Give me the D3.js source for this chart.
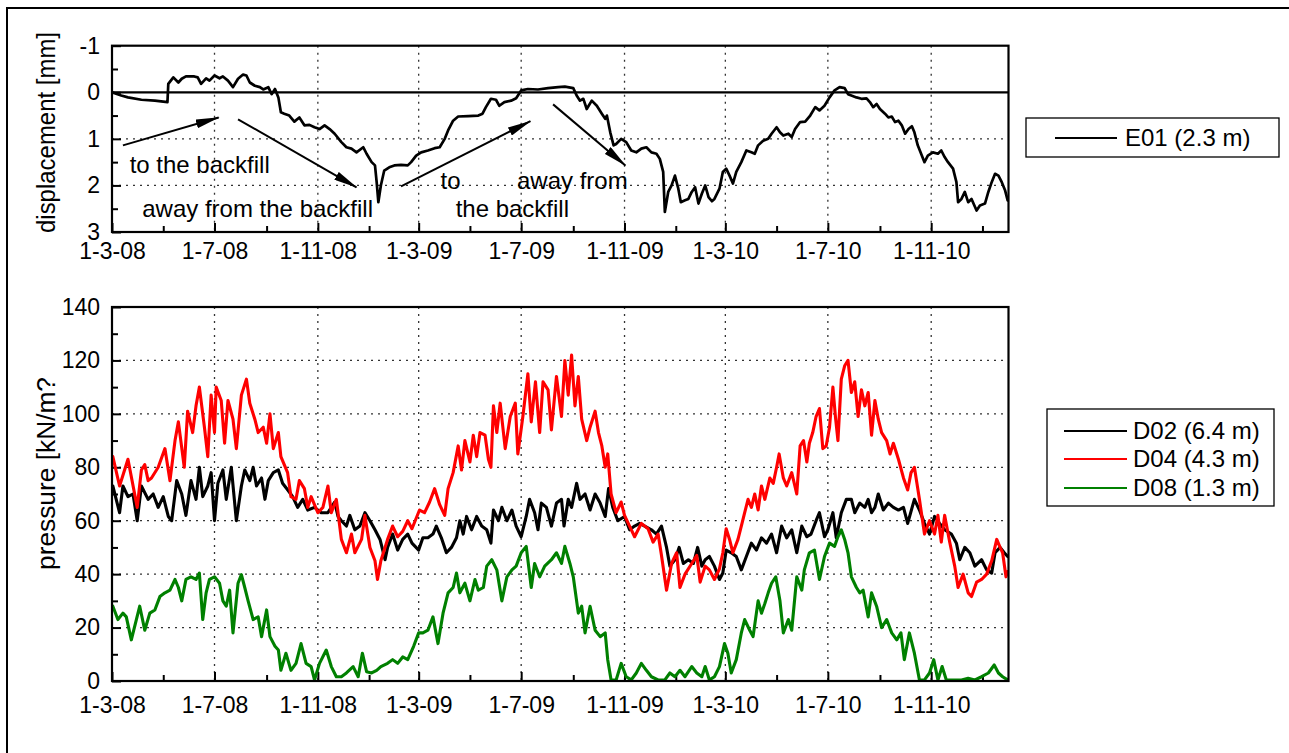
<!DOCTYPE html>
<html>
<head>
<meta charset="utf-8">
<script src="https://cdn.jsdelivr.net/npm/d3@7"></script>
<style>
  html, body { margin: 0; padding: 0; background: #fff; }
  svg { display: block; font-family: "Liberation Sans", Arial, Helvetica, sans-serif; }
</style>
</head>
<body>
<svg id="chart" width="1289" height="753"></svg>
<script>
// ---------------------------------------------------------------------------
// Monitoring record, 1 March 2008 – 1 February 2011.
// Each series is a list of [day since 1-3-08, reading].
// ---------------------------------------------------------------------------

// E01 (2.3 m): horizontal displacement [mm], positive = away from the backfill
const e01 = [
  [0,0],[11,0.07],[19,0.11],[35,0.16],[51,0.18],[66,0.21],[67,-0.18],[73,-0.32],[79,-0.21],[83,-0.29],
  [88,-0.34],[98,-0.34],[102,-0.32],[106,-0.18],[112,-0.30],[116,-0.25],[122,-0.36],[128,-0.30],[132,-0.34],[138,-0.25],
  [144,-0.11],[150,-0.29],[156,-0.38],[160,-0.36],[164,-0.21],[170,-0.14],[176,-0.11],[180,-0.06],[186,-0.11],[190,0.04],
  [194,-0.07],[198,0.11],[201,0.43],[205,0.46],[211,0.50],[217,0.63],[223,0.54],[229,0.71],[235,0.70],[241,0.75],
  [247,0.79],[253,0.71],[259,0.79],[265,0.89],[273,1.07],[279,1.18],[285,1.21],[291,1.29],[299,1.18],[303,1.32],
  [309,1.50],[313,1.57],[315,1.93],[317,2.36],[320,2.00],[324,1.68],[330,1.61],[336,1.57],[344,1.56],[352,1.57],
  [356,1.50],[362,1.36],[368,1.29],[376,1.25],[384,1.20],[390,1.18],[396,1.00],[400,0.82],[406,0.61],[412,0.52],
  [424,0.51],[436,0.50],[441,0.46],[445,0.32],[451,0.14],[457,0.16],[461,0.29],[467,0.21],[475,0.18],[481,0.13],
  [487,-0.04],[495,-0.07],[507,-0.06],[519,-0.09],[531,-0.11],[539,-0.12],[549,-0.09],[553,0.07],[557,0.18],[561,0.14],
  [565,0.36],[571,0.18],[577,0.29],[583,0.46],[587,0.57],[589,0.50],[593,0.86],[597,1.14],[600,1.11],[606,1.00],
  [612,1.07],[618,1.25],[624,1.29],[630,1.21],[636,1.18],[642,1.29],[648,1.32],[652,1.43],[656,1.71],[658,2.57],
  [662,2.14],[666,2.00],[670,1.79],[674,2.07],[677,2.36],[682,2.32],[686,2.29],[690,2.14],[694,2.04],[698,2.39],
  [702,2.18],[706,2.00],[710,2.25],[714,2.34],[717,2.29],[723,2.07],[727,1.71],[731,1.64],[735,1.79],[739,1.96],
  [743,1.71],[749,1.50],[755,1.25],[761,1.29],[765,1.32],[769,1.14],[775,1.04],[781,1.00],[785,0.89],[791,0.75],
  [795,0.86],[799,0.93],[805,0.89],[809,0.96],[813,0.79],[819,0.64],[825,0.63],[831,0.50],[837,0.32],[842,0.39],
  [848,0.29],[854,0.11],[860,-0.04],[866,-0.11],[872,-0.09],[876,0.04],[880,0.07],[886,0.11],[892,0.14],[898,0.13],
  [902,0.21],[906,0.32],[910,0.25],[914,0.36],[920,0.46],[924,0.54],[928,0.52],[932,0.64],[936,0.61],[940,0.71],
  [944,0.89],[948,0.79],[952,0.73],[955,0.86],[959,1.14],[963,1.32],[967,1.50],[971,1.36],[977,1.29],[983,1.32],
  [987,1.25],[991,1.39],[995,1.50],[1001,1.64],[1005,1.93],[1007,2.36],[1011,2.29],[1015,2.14],[1019,2.36],[1023,2.29],
  [1029,2.54],[1033,2.43],[1039,2.39],[1043,2.14],[1047,1.93],[1051,1.75],[1055,1.79],[1059,1.93],[1063,2.11],[1066,2.32]
];

// D02 (6.4 m): earth pressure [kN/m²]
const d02 = [
  [1,73],[5,68],[9,63],[13,73],[19,69],[25,70],[30,60],[35,73],[43,68],[49,70],[55,65],[61,69],[67,61.6],[71,60],
  [77,75],[83,70],[88,62],[94,75],[100,68],[104,80],[108,69],[114,73],[118,78],[122,60],[126,74],[132,79],[136,68],
  [142,80],[148,60],[154,73],[158,79],[164,75],[168,80],[172,73],[178,76],[182,68],[186,75],[192,78],[198,79],[203,74],
  [209,71.6],[215,69],[221,65],[227,68],[233,64],[241,65],[249,63],[257,63],[265,67],[269,61.6],[273,60],[279,58],
  [283,62],[289,56.6],[295,58],[301,63],[307,60],[313,56.6],[319,53],[325,45.4],[328,50],[334,55],[340,49],[346,53],
  [352,55],[357,51.6],[365,49],[370,53.6],[376,53.6],[382,55],[386,58],[392,53.6],[398,48],[404,50],[410,53.6],[414,60],
  [418,55],[422,61.6],[428,56.6],[434,61.6],[440,58],[446,56.6],[451,51.6],[454,64],[460,60],[464,65],[470,60],[476,64],
  [481,58],[487,54],[493,61.6],[497,68],[503,63],[507,56.6],[511,66.6],[517,65],[523,58],[529,66.6],[535,68],[538,58],
  [543,68],[547,65],[553,74],[557,68],[563,70],[569,64],[575,70],[581,66.6],[587,61.6],[591,72],[596,65],[602,60],
  [610,61.6],[616,56.6],[622,58],[628,59],[634,58],[642,56.6],[648,55],[654,58],[660,50],[664,43],[670,45.4],[675,50],
  [680,44],[686,45.4],[692,44],[697,50],[702,43],[706,45.4],[711,46.6],[717,43],[723,38],[727,40.4],[731,49],[737,48],
  [743,46.6],[749,41.6],[755,46.6],[761,51.6],[767,49],[773,53.6],[779,51.6],[785,55],[791,48],[797,58],[803,53.6],
  [809,56.6],[815,48],[821,58],[827,54],[832,55],[838,60],[842,63],[848,54],[852,56.6],[858,63],[862,53.6],[868,63],
  [874,68],[880,68],[884,63],[890,66.6],[896,65],[900,68],[904,63],[908,65],[912,70],[918,64],[924,66.6],[930,65],
  [936,64],[942,65],[947,59],[955,68],[961,64],[967,59],[973,55],[979,61.6],[985,59],[991,56.6],[999,55],[1005,51.6],
  [1009,45.4],[1015,50],[1021,48],[1027,43],[1035,45.4],[1041,41.6],[1047,40.4],[1051,48],[1057,50],[1062,48],[1066,46.6]
];

// D04 (4.3 m): earth pressure [kN/m²]
const d04 = [
  [1,84],[9,73],[19,83],[30,65],[35,79],[39,81],[43,75],[47,76],[55,80],[63,87],[69,75],[75,90],[79,97],[86,80],
  [90,101],[96,93],[100,103],[104,110],[110,95],[114,84],[118,107],[122,93],[124,110],[130,105],[134,89],[138,105],
  [144,98],[148,87],[154,107],[160,113],[164,104],[170,98],[174,93],[180,95],[184,89],[188,100],[192,87],[198,93],
  [201,84],[209,78],[213,69],[219,68],[223,75],[229,72],[233,65],[237,69],[245,63],[251,65],[257,73],[261,63],[267,68],
  [273,53],[279,48],[285,55],[289,48],[297,53],[301,62],[307,50],[313,45],[316,38],[320,45],[328,53],[334,58],[340,54],
  [346,56],[352,60],[357,57],[366,64],[372,63],[378,67],[384,72],[390,66],[396,62],[400,72],[406,78],[412,88],[416,79],
  [420,90],[426,82],[430,92],[434,84],[438,93],[444,92],[448,83],[451,80],[454,103],[458,93],[462,104],[468,87],[474,99],
  [480,104],[483,85],[489,99],[495,115],[499,97],[504,112],[509,93],[513,112],[519,109],[523,94],[529,114],[535,99],
  [539,120],[543,107],[547,122],[551,103],[555,114],[559,98],[565,90],[569,95],[575,101],[579,93],[583,88],[587,80],
  [590,85],[594,70],[600,63],[606,67],[610,62],[616,58],[622,54],[630,59],[638,57],[644,52],[650,55],[654,47],[660,34],
  [666,44],[672,48],[676,35],[682,40],[690,44],[696,47],[700,37],[706,43],[711,41.6],[717,38],[723,42],[727,48],[731,57],
  [735,53],[739,48],[745,53],[749,58],[753,63],[757,68],[761,65],[765,70],[769,64],[773,73],[777,68],[783,76],[787,74],
  [791,80],[794,85],[799,76],[803,73],[809,78],[815,70],[819,88],[823,90],[827,82],[830,89],[834,93],[838,99],[842,102],
  [846,87],[850,88],[854,95],[858,110],[861,99],[864,90],[868,113],[872,118],[876,120],[880,108],[884,112],[888,99],
  [892,109],[896,103],[900,108],[904,92],[908,105],[912,98],[916,93],[922,90],[926,85],[930,89],[936,83],[942,76],
  [947,71.5],[951,78],[955,80],[961,68],[967,55],[973,60],[979,55],[983,62],[987,52],[991,62],[997,52],[1003,43],
  [1007,35],[1013,40],[1019,33],[1023,31.6],[1029,37],[1035,38],[1041,40],[1047,45],[1053,53],[1057,50],[1060,48],
  [1064,39],[1066,41]
];

// D08 (1.3 m): earth pressure [kN/m²]
const d08 = [
  [1,28],[7,23],[13,25.4],[17,24],[23,15.4],[29,23],[33,28],[39,19],[45,25.4],[51,26.6],[57,31.6],[63,33],[69,34],
  [75,38],[79,35],[83,30],[88,38],[94,39],[100,38],[104,40.4],[108,23],[112,33],[116,38],[122,39],[128,36.6],[132,30],
  [136,28],[140,34],[144,18],[150,36.6],[154,39.8],[158,35],[162,30],[168,23],[174,24],[178,16.6],[184,26.6],[188,16.6],
  [194,13],[198,11.6],[201,4],[207,10.4],[213,4],[219,6.6],[225,14],[231,6.6],[237,5.4],[241,0.4],[247,6.6],[255,11.6],
  [261,5.4],[267,1.6],[273,1.6],[279,3],[287,5.4],[293,1.6],[298,10.4],[303,3.5],[309,3],[315,4],[320,5.4],[328,6.6],
  [334,8],[340,6.6],[346,9],[352,8],[359,13],[365,18],[370,18],[376,19],[382,24],[388,14],[394,25.4],[400,33],[406,35],
  [410,40.4],[414,33],[420,36.6],[426,30],[432,38],[436,34],[442,35],[446,43],[452,45.4],[458,41.6],[464,30],[470,39],
  [476,41.6],[481,43],[487,48],[493,50.4],[499,35],[503,44],[509,39],[515,43],[523,45.4],[529,48],[535,44],[539,50.4],
  [545,44],[549,39],[555,25.4],[559,28],[563,18],[569,28],[575,19],[581,16.6],[587,18],[590,8],[594,0.4],[600,0.4],
  [606,6.6],[612,1.6],[618,0.4],[624,3],[630,6.6],[636,4],[642,1.6],[650,0.4],[658,0.4],[664,3],[670,1.6],[676,4],
  [682,1.6],[690,5.4],[696,3],[702,1.6],[706,5.4],[711,0.4],[717,1.6],[723,5.4],[729,14],[733,10.4],[737,3],[743,8],
  [749,18],[753,23],[759,19],[763,16.6],[769,30],[773,25.4],[777,29],[781,33],[785,36.6],[790,39],[795,30],[799,18],
  [805,23],[809,19],[815,39],[821,34],[824,41.6],[830,48],[836,49],[842,38],[848,46.6],[854,51.6],[860,50.4],[864,54],
  [868,56.6],[872,53],[876,48],[880,39],[886,35],[890,33],[894,34],[900,24],[904,33],[910,28],[916,20],[922,23],[928,18],
  [934,15.4],[939,18],[943,8],[949,18],[955,10.4],[961,0.4],[967,0.4],[973,3],[978,8],[983,0.4],[988,5.4],[993,0.4],
  [1001,0.4],[1011,0.4],[1019,1],[1027,0.4],[1035,1.6],[1043,3],[1050,6],[1055,3],[1060,1.6],[1066,0.4]
];

// Axis ticks
const majorTickDates = ["2008-03-01","2008-07-01","2008-11-01","2009-03-01","2009-07-01","2009-11-01","2010-03-01","2010-07-01","2010-11-01"];
const minorTickDates = ["2008-05-01","2008-09-01","2009-01-01","2009-05-01","2009-09-01","2010-01-01","2010-05-01","2010-09-01","2011-01-01"];
const dispTicks = [-1, 0, 1, 2, 3];
const dispMinorTicks = [-0.5, 0.5, 1.5, 2.5];
const pressTicks = [0, 20, 40, 60, 80, 100, 120, 140];
const pressMinorTicks = [10, 30, 50, 70, 90, 110, 130];

// Legend entries
const topLegend = [{ name: "E01 (2.3 m)", color: "#000000" }];
const bottomLegend = [
  { name: "D02 (6.4 m)", color: "#000000" },
  { name: "D04 (4.3 m)", color: "#ff0000" },
  { name: "D08 (1.3 m)", color: "#008000" }
];

// Movement annotations on the displacement panel: [day, mm]
const arrowStarts = [[13, 1.14], [150, 0.58], [344, 2.02], [525, 0.26]];
const arrowEnds   = [[127, 0.54], [291, 2.04], [498, 0.62], [611, 1.57]];
const noteTexts   = ["to the backfill", "away from the backfill", "to", "away from", "the backfill"];
const noteAnchors = [[21, 1.74], [36, 2.68], [391, 2.08], [482, 2.08], [409, 2.68]];

// ---------------------------------------------------------------------------
const parseDate = d3.timeParse("%Y-%m-%d");
const START = new Date(2008, 2, 1);
const END = new Date(2011, 1, 1);
const dayToDate = d => d3.timeDay.offset(START, d);
const fmtTick = d3.timeFormat("%-d-%-m-%y");

const svg = d3.select("#chart");
const TICK_FONT = 23;
const TEXT_FONT = 24;

const x = d3.scaleTime().domain([START, END]).range([112, 1008.5]);
const yTop = d3.scaleLinear().domain([-1, 3]).range([45.7, 232]);
const yBot = d3.scaleLinear().domain([0, 140]).range([681, 307]);

const majorDates = majorTickDates.map(parseDate);
const minorDates = minorTickDates.map(parseDate);

// outer border of the figure (continues past the right and bottom edges)
svg.append("rect")
  .attr("x", 7).attr("y", 8).attr("width", 1400).attr("height", 800)
  .attr("fill", "none").attr("stroke", "#000").attr("stroke-width", 2);

const defs = svg.append("defs");
defs.append("marker")
  .attr("id", "arrowHead")
  .attr("viewBox", "0 0 24 9")
  .attr("refX", 23).attr("refY", 4.5)
  .attr("markerWidth", 24).attr("markerHeight", 9)
  .attr("markerUnits", "userSpaceOnUse")
  .attr("orient", "auto")
  .append("path").attr("d", "M0,0 L24,4.5 L0,9 Z").attr("fill", "#000");

function drawPanel(id, y, yMajor, yMinor, gridValues, labelPad) {
  const yBottom = Math.max(...y.range());
  const yTopPx = Math.min(...y.range());
  const g = svg.append("g").attr("class", id);

  defs.append("clipPath").attr("id", "clip-" + id)
    .append("rect")
    .attr("x", x.range()[0]).attr("y", yTopPx)
    .attr("width", x.range()[1] - x.range()[0]).attr("height", yBottom - yTopPx);

  // dotted grid
  const grid = g.append("g").attr("stroke", "#333").attr("stroke-width", 1.3)
    .attr("stroke-dasharray", "2,5");
  grid.selectAll("line.v").data(majorDates.slice(1)).join("line")
    .attr("class", "v")
    .attr("x1", d => x(d)).attr("x2", d => x(d))
    .attr("y1", yTopPx).attr("y2", yBottom);
  grid.selectAll("line.h").data(gridValues).join("line")
    .attr("class", "h")
    .attr("x1", x.range()[0]).attr("x2", x.range()[1])
    .attr("y1", d => y(d)).attr("y2", d => y(d));

  // x axis (ticks pointing inwards)
  g.append("g").attr("transform", `translate(0,${yBottom})`)
    .call(d3.axisBottom(x).tickValues(majorDates).tickFormat(fmtTick)
      .tickSizeInner(-9).tickSizeOuter(0).tickPadding(labelPad));
  g.append("g").attr("transform", `translate(0,${yBottom})`)
    .call(d3.axisBottom(x).tickValues(minorDates).tickFormat("")
      .tickSizeInner(-6).tickSizeOuter(0));

  // y axis
  g.append("g").attr("transform", `translate(${x.range()[0]},0)`)
    .call(d3.axisLeft(y).tickValues(yMajor).tickFormat(d => String(d))
      .tickSizeInner(-9).tickSizeOuter(0).tickPadding(12));
  g.append("g").attr("transform", `translate(${x.range()[0]},0)`)
    .call(d3.axisLeft(y).tickValues(yMinor).tickFormat("")
      .tickSizeInner(-6).tickSizeOuter(0));

  g.selectAll(".domain").remove();
  g.selectAll(".tick line").attr("stroke", "#000").attr("stroke-width", 2);
  g.selectAll(".tick text")
    .attr("fill", "#000")
    .style("font-size", TICK_FONT + "px")
    .style("font-family", '"Liberation Sans", Arial, sans-serif');

  return { g, yBottom, yTopPx };
}

function drawFrame(p) {
  p.g.append("rect")
    .attr("x", x.range()[0]).attr("y", p.yTopPx)
    .attr("width", x.range()[1] - x.range()[0]).attr("height", p.yBottom - p.yTopPx)
    .attr("fill", "none").attr("stroke", "#000").attr("stroke-width", 2.2);
}

function drawSeries(p, id, data, y, color, width) {
  const line = d3.line()
    .x(d => x(dayToDate(d[0])))
    .y(d => y(d[1]));
  p.g.append("path")
    .datum(data)
    .attr("clip-path", `url(#clip-${id})`)
    .attr("fill", "none")
    .attr("stroke", color)
    .attr("stroke-width", width)
    .attr("stroke-linejoin", "round")
    .attr("stroke-linecap", "round")
    .attr("d", line);
}

// ---- displacement panel ----
const dispPanel = drawPanel("disp", yTop, dispTicks, dispMinorTicks, [1, 2], 11);
dispPanel.g.append("line")
  .attr("x1", x.range()[0]).attr("x2", x.range()[1])
  .attr("y1", yTop(0)).attr("y2", yTop(0))
  .attr("stroke", "#000").attr("stroke-width", 2.2);
drawSeries(dispPanel, "disp", e01, yTop, "#000", 2.7);

dispPanel.g.selectAll("line.arrow").data(arrowStarts).join("line")
  .attr("class", "arrow")
  .attr("x1", d => x(dayToDate(d[0]))).attr("y1", d => yTop(d[1]))
  .attr("x2", (d, i) => x(dayToDate(arrowEnds[i][0]))).attr("y2", (d, i) => yTop(arrowEnds[i][1]))
  .attr("stroke", "#000").attr("stroke-width", 2)
  .attr("marker-end", "url(#arrowHead)");

dispPanel.g.selectAll("text.note").data(noteTexts).join("text")
  .attr("class", "note")
  .attr("x", (d, i) => x(dayToDate(noteAnchors[i][0])))
  .attr("y", (d, i) => yTop(noteAnchors[i][1]))
  .attr("font-size", TEXT_FONT)
  .attr("fill", "#000")
  .text(d => d);
drawFrame(dispPanel);

// ---- pressure panel ----
const pressPanel = drawPanel("press", yBot, pressTicks, pressMinorTicks, [20, 40, 60, 80, 100, 120], 15.5);
drawSeries(pressPanel, "press", d02, yBot, "#000000", 3.1);
drawSeries(pressPanel, "press", d04, yBot, "#ff0000", 3.1);
drawSeries(pressPanel, "press", d08, yBot, "#008000", 3.1);
drawFrame(pressPanel);

// ---- axis titles ----
svg.append("text")
  .attr("transform", "translate(55,132.5) rotate(-90)")
  .attr("text-anchor", "middle")
  .attr("font-size", 25)
  .attr("textLength", 201)
  .attr("lengthAdjust", "spacingAndGlyphs")
  .text("displacement [mm]");
svg.append("text")
  .attr("transform", "translate(55,473.5) rotate(-90)")
  .attr("text-anchor", "middle")
  .attr("font-size", 25)
  .attr("textLength", 193)
  .attr("lengthAdjust", "spacingAndGlyphs")
  .text("pressure [kN/m?");

// ---- legends ----
function drawLegend(items, box, rowY, lineX0, lineX1, textX) {
  const lg = svg.append("g");
  lg.append("rect")
    .attr("x", box[0]).attr("y", box[1]).attr("width", box[2]).attr("height", box[3])
    .attr("fill", "#fff").attr("stroke", "#000").attr("stroke-width", 1.3);
  const row = lg.selectAll("g.row").data(items).join("g")
    .attr("class", "row")
    .attr("transform", (d, i) => `translate(0,${rowY[i]})`);
  row.append("line")
    .attr("x1", lineX0).attr("x2", lineX1)
    .attr("stroke", d => d.color).attr("stroke-width", 2.2);
  row.append("text")
    .attr("x", textX).attr("dy", "0.35em")
    .attr("font-size", TEXT_FONT)
    .text(d => d.name);
}
drawLegend(topLegend, [1026, 118, 253, 39], [138], 1055, 1117, 1125);
drawLegend(bottomLegend, [1047, 409, 227, 97], [431, 459, 488], 1064, 1127, 1133);
</script>
</body>
</html>
